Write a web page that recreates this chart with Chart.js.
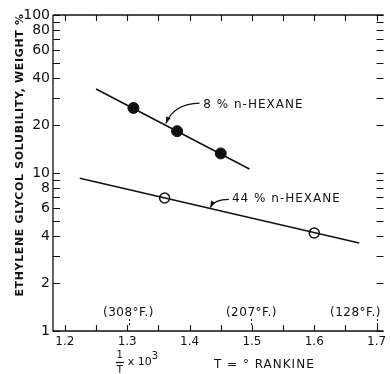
<!DOCTYPE html>
<html>
<head>
<meta charset="utf-8">
<script src="https://cdn.jsdelivr.net/npm/chart.js@4.4.1/dist/chart.umd.min.js"></script>
<style>
  html, body { margin: 0; padding: 0; background: #fff; }
  #wrap { width: 390px; height: 374px; }
</style>
</head>
<body>
<div id="wrap"><canvas id="solChart" width="390" height="374"></canvas></div>
<script>
// Measured points (x = 1/T x 10^3, y = weight %)
var hex8X = [1.31, 1.38, 1.45];
var hex8Y = [25.8, 18.4, 13.3];
var hex44X = [1.36, 1.60];
var hex44Y = [6.95, 4.17];

// Fitted lines (end points)
var fit8X = [1.25, 1.496];
var fit8Y = [34, 10.6];
var fit44X = [1.224, 1.672];
var fit44Y = [9.25, 3.6];

// Axis ticks and labels
var xTicks = [1.2, 1.3, 1.4, 1.5, 1.6, 1.7];
var xMinorTicks = [1.2, 1.25, 1.3, 1.35, 1.4, 1.45, 1.5, 1.55, 1.6, 1.65, 1.7];
var yTicks = [1, 2, 3, 4, 5, 6, 7, 8, 9, 10, 20, 30, 40, 50, 60, 70, 80, 90, 100];
var yLabels = [1, 2, 4, 6, 8, 10, 20, 40, 60, 80, 100];

// Temperature markers along the bottom (deg F)
var tempF = [308, 207, 128];

var FONT = '"DejaVu Sans", sans-serif';
var INK = "#111";

function toPts(xs, ys) {
    return xs.map(function (x, i) { return { x: x, y: ys[i] }; });
}

// Draw the frame, inward ticks and the hand lettering
var decorPlugin = {
    id: "decor",
    afterDraw: function (chart) {
        var ctx = chart.ctx;
        var a = chart.chartArea;
        var xs = chart.scales.x;
        var ys = chart.scales.y;
        ctx.save();
        ctx.strokeStyle = INK;
        ctx.fillStyle = INK;
        ctx.lineWidth = 1.3;

        // frame
        ctx.beginPath();
        ctx.moveTo(a.left, a.top);
        ctx.lineTo(a.right, a.top);
        ctx.moveTo(a.left, a.top);
        ctx.lineTo(a.left, a.bottom);
        ctx.lineTo(a.right, a.bottom);
        ctx.stroke();

        // inward ticks
        ctx.lineWidth = 1.1;
        ctx.beginPath();
        yTicks.forEach(function (v) {
            var py = Math.round(ys.getPixelForValue(v)) + 0.5;
            ctx.moveTo(a.left, py);
            ctx.lineTo(a.left + 7, py);
            ctx.moveTo(a.right, py);
            ctx.lineTo(a.right - 7, py);
        });
        xMinorTicks.forEach(function (v) {
            var px = Math.round(xs.getPixelForValue(v)) + 0.5;
            ctx.moveTo(px, a.bottom);
            ctx.lineTo(px, a.bottom - 6);
            ctx.moveTo(px, a.top);
            ctx.lineTo(px, a.top + 6);
        });
        ctx.stroke();

        // series labels with curved arrows
        ctx.font = "12px " + FONT;
        ctx.letterSpacing = "1px";
        ctx.textBaseline = "middle";
        ctx.textAlign = "left";
        ctx.fillText("8 % n-HEXANE", xs.getPixelForValue(1.422), ys.getPixelForValue(26.9));
        ctx.fillText("44 % n-HEXANE", xs.getPixelForValue(1.468), ys.getPixelForValue(6.9));

        function arrow(x0, y0, cx, cy, x1, y1) {
            var p0x = xs.getPixelForValue(x0), p0y = ys.getPixelForValue(y0);
            var pcx = xs.getPixelForValue(cx), pcy = ys.getPixelForValue(cy);
            var p1x = xs.getPixelForValue(x1), p1y = ys.getPixelForValue(y1);
            ctx.lineWidth = 1.3;
            ctx.beginPath();
            ctx.moveTo(p0x, p0y);
            ctx.quadraticCurveTo(pcx, pcy, p1x, p1y);
            ctx.stroke();
            var ang = Math.atan2(p1y - pcy, p1x - pcx);
            ctx.beginPath();
            ctx.moveTo(p1x, p1y);
            ctx.lineTo(p1x - 7 * Math.cos(ang - 0.35), p1y - 7 * Math.sin(ang - 0.35));
            ctx.lineTo(p1x - 7 * Math.cos(ang + 0.35), p1y - 7 * Math.sin(ang + 0.35));
            ctx.closePath();
            ctx.fill();
        }
        arrow(1.416, 27.7, 1.375, 27.5, 1.362, 20.6);
        arrow(1.463, 6.8, 1.44, 6.8, 1.433, 6.05);

        // temperature markers
        ctx.font = "12px " + FONT;
        ctx.letterSpacing = "0.5px";
        ctx.textAlign = "center";
        tempF.forEach(function (f) {
            var v = 1000 / (f + 460);
            var px = xs.getPixelForValue(v);
            ctx.fillText("(" + f + "\u00b0F.)", Math.min(px, a.right - 28), a.bottom - 18);
            ctx.setLineDash([2, 2]);
            ctx.lineWidth = 1;
            ctx.beginPath();
            ctx.moveTo(Math.round(px) + 0.5, a.bottom - 12);
            ctx.lineTo(Math.round(px) + 0.5, a.bottom - 4);
            ctx.stroke();
            ctx.setLineDash([]);
        });

        // y title
        ctx.save();
        ctx.translate(20, 155);
        ctx.rotate(-Math.PI / 2);
        ctx.font = "bold 11px " + FONT;
        ctx.letterSpacing = "0.65px";
        ctx.textAlign = "center";
        ctx.fillText("ETHYLENE GLYCOL SOLUBILITY, WEIGHT %", 0, 0);
        ctx.restore();

        // x title: 1/T x 10^3   T = deg RANKINE
        var fx = xs.getPixelForValue(1.288);
        ctx.letterSpacing = "0px";
        ctx.font = "10px " + FONT;
        ctx.textAlign = "center";
        ctx.fillText("1", fx, a.bottom + 24);
        ctx.lineWidth = 1.2;
        ctx.beginPath();
        ctx.moveTo(fx - 4, a.bottom + 31.5);
        ctx.lineTo(fx + 4, a.bottom + 31.5);
        ctx.stroke();
        ctx.fillText("T", fx, a.bottom + 39);
        ctx.textAlign = "left";
        ctx.font = "11px " + FONT;
        ctx.fillText("x 10", fx + 8, a.bottom + 31);
        ctx.font = "10px " + FONT;
        ctx.fillText("3", fx + 32, a.bottom + 25);
        ctx.font = "12px " + FONT;
        ctx.letterSpacing = "1px";
        ctx.fillText("T = \u00b0 RANKINE", xs.getPixelForValue(1.439), a.bottom + 34);
        ctx.restore();
    }
};

var ctx = document.getElementById("solChart").getContext("2d");

var chartData = {
    datasets: [
        {
            label: "8% fit",
            data: toPts(fit8X, fit8Y),
            showLine: true,
            borderColor: INK,
            borderWidth: 1.5,
            pointRadius: 0,
        },
        {
            label: "44% fit",
            data: toPts(fit44X, fit44Y),
            showLine: true,
            borderColor: INK,
            borderWidth: 1.5,
            pointRadius: 0,
        },
        {
            label: "8% n-HEXANE",
            data: toPts(hex8X, hex8Y),
            pointRadius: 5.5,
            pointBackgroundColor: INK,
            pointBorderColor: INK,
            pointBorderWidth: 1,
        },
        {
            label: "44% n-HEXANE",
            data: toPts(hex44X, hex44Y),
            pointRadius: 5,
            pointBackgroundColor: "#fff",
            pointBorderColor: INK,
            pointBorderWidth: 1.5,
        },
    ],
};

var chartOptions = {
    responsive: false,
    animation: false,
    layout: { padding: { top: 15, right: 0, left: 0, bottom: 0 } },
    plugins: {
        legend: { display: false },
        tooltip: { enabled: false },
    },
    scales: {
        x: {
            type: "linear",
            min: 1.181,
            max: 1.711,
            grid: { display: false, drawTicks: false },
            border: { display: false },
            afterBuildTicks: function (scale) {
                scale.ticks = xTicks.map(function (v) { return { value: v }; });
            },
            afterFit: function (scale) {
                scale.height = 43;
                scale.paddingLeft = 0;
                scale.paddingRight = 0;
            },
            ticks: {
                padding: 4,
                color: INK,
                font: { family: FONT, size: 12 },
                callback: function (v) { return v.toFixed(1); },
            },
        },
        y: {
            type: "logarithmic",
            min: 1,
            max: 100,
            grid: { display: false, drawTicks: false },
            border: { display: false },
            afterBuildTicks: function (scale) {
                scale.ticks = yLabels.map(function (v) { return { value: v }; });
            },
            afterFit: function (scale) {
                scale.width = 53;
                scale.paddingTop = 0;
                scale.paddingBottom = 0;
            },
            ticks: {
                padding: 3,
                color: INK,
                font: { family: FONT, size: 14 },
                callback: function (v) { return String(v); },
            },
        },
    },
};

var solChart = new Chart(ctx, {
    type: "scatter",
    data: chartData,
    options: chartOptions,
    plugins: [decorPlugin],
});
</script>
</body>
</html>
